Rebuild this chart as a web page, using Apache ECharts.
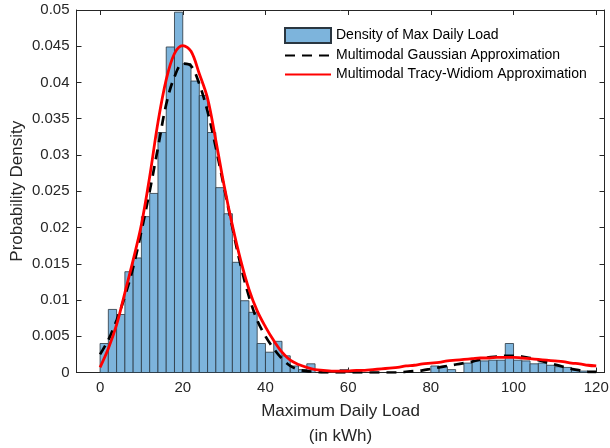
<!DOCTYPE html>
<html>
<head>
<meta charset="utf-8">
<script src="https://cdn.jsdelivr.net/npm/echarts@6/dist/echarts.min.js"></script>
<style>
html,body{margin:0;padding:0;background:#fff;}
#chart{width:610px;height:448px;}
</style>
</head>
<body>
<div id="chart"></div>
<script>
// Histogram bin edges (kWh) and density per bin
const binEdges = [0,2,4,6,8,10,12,14,16,18,20,22,24,26,28,30,32,34,36,38,40,42,44,46,48,50,52,54,56,58,60,
  62,64,66,68,70,72,74,76,78,80,82,84,86,88,90,92,94,96,98,100,102,104,106,108,110,112,114,116,118,120];
const density = [0.0040,0.0087,0.0080,0.0139,0.0158,0.0215,0.0247,0.0331,0.0449,0.0497,
  0.0426,0.0402,0.0382,0.0331,0.0255,0.0219,0.0152,0.0099,0.0083,0.0040,
  0.0028,0.0043,0.0023,0.0009,0.0004,0.0012,0,0,0,0.0004,
  0,0,0,0,0,0,0,0,0,0,
  0.0009,0.0008,0.0004,0,0.0013,0.0016,0.0016,0.0017,0.0017,0.0040,
  0.0017,0.0016,0.0012,0.0013,0.0010,0.0008,0.0007,0.0004,0.0002,0];

// Curve sample positions (kWh)
const curveX = [0,2,4,6,8,10,12,14,16,18,20,22,24,26,28,30,32,34,36,38,40,42,44,46,48,50,52,54,56,58,60,
  62,64,66,68,70,72,74,76,78,80,82,84,86,88,90,92,94,96,98,100,102,104,106,108,110,112,114,116,118,120];
const gaussY = [0.0025,0.0045,0.0072,0.0105,0.0145,0.0195,0.0250,0.0310,0.0370,0.0408,
  0.0426,0.0423,0.0398,0.0360,0.0310,0.0255,0.0200,0.0148,0.0105,0.0072,
  0.0050,0.0033,0.0019,0.0009,0.0004,0.0002,0.0001,0,0,0,
  0,0,0,0,0,0,0,0.0001,0.0002,0.0003,
  0.0005,0.0007,0.0009,0.0011,0.0013,0.0015,0.0018,0.0021,0.0022,0.0023,
  0.0023,0.0022,0.0020,0.0017,0.0014,0.0011,0.0008,0.0005,0.0003,0.0001,0.0001];
const tracyY = [0.0007,0.0033,0.0066,0.0110,0.0155,0.0204,0.0270,0.0345,0.0404,0.0440,
  0.0451,0.0443,0.0412,0.0378,0.0320,0.0258,0.0203,0.0155,0.0115,0.0085,
  0.0063,0.0044,0.0028,0.0017,0.0011,0.0007,0.0004,0.0003,0.0002,0.0002,
  0.0002,0.0003,0.0003,0.0004,0.0005,0.0006,0.0007,0.0009,0.0010,0.0012,
  0.0013,0.0014,0.0016,0.0017,0.0018,0.0019,0.0020,0.0020,0.0021,0.0021,
  0.0021,0.0020,0.0019,0.0018,0.0017,0.0016,0.0015,0.0013,0.0012,0.0010,0.0009];

const xTicks = [0,20,40,60,80,100,120];
const names = ['Density of Max Daily Load','Multimodal Gaussian Approximation','Multimodal Tracy-Widiom Approximation'];

const FONT = 'Liberation Sans, Arial, sans-serif';
const AX = '#262626';

const histData = density.map((d, i) => [binEdges[i], binEdges[i + 1], d]);

const chart = echarts.init(document.getElementById('chart'), null, {renderer: 'canvas'});
const axisLine = {show: true, onZero: false, lineStyle: {color: AX, width: 1}};
const tickIn = {show: true, inside: true, length: 5, lineStyle: {color: AX, width: 1}};

chart.setOption({
  animation: false,
  backgroundColor: '#fff',
  grid: {left: 76.5, right: 5.5, top: 10, bottom: 75.5, containLabel: false, outerBoundsMode: 'none'},
  legend: {
    orient: 'vertical', left: 284, top: 27, padding: 0,
    itemWidth: 46, itemHeight: 15, itemGap: 4,
    textStyle: {fontFamily: FONT, fontSize: 14, color: '#000', lineHeight: 15},
    data: [
      {name: names[0], icon: 'rect'},
      {name: names[1], itemStyle: {opacity: 0}},
      {name: names[2], itemStyle: {opacity: 0}}
    ]
  },
  xAxis: [{
    type: 'value', min: -5.7, max: 122, position: 'bottom',
    axisLine: axisLine,
    axisTick: Object.assign({}, tickIn, {customValues: xTicks}),
    axisLabel: {customValues: xTicks, fontFamily: FONT, fontSize: 15, color: AX, margin: 8},
    splitLine: {show: false},
    name: 'Maximum Daily Load\n(in kWh)', nameLocation: 'middle', nameGap: 26, nameMoveOverlap: false,
    nameTextStyle: {fontFamily: FONT, fontSize: 17, color: AX, lineHeight: 25}
  }, {
    type: 'value', min: -5.7, max: 122, position: 'top',
    axisLine: axisLine,
    axisTick: Object.assign({}, tickIn, {customValues: xTicks}),
    axisLabel: {show: false}, splitLine: {show: false}
  }],
  yAxis: [{
    type: 'value', min: 0, max: 0.05, interval: 0.005, position: 'left',
    axisLine: axisLine, axisTick: tickIn,
    axisLabel: {fontFamily: FONT, fontSize: 15, color: AX, margin: 7},
    splitLine: {show: false},
    name: 'Probability Density', nameLocation: 'middle', nameGap: 51, nameMoveOverlap: false,
    nameTextStyle: {fontFamily: FONT, fontSize: 17, color: AX}
  }, {
    type: 'value', min: 0, max: 0.05, interval: 0.005, position: 'right',
    axisLine: axisLine, axisTick: tickIn,
    axisLabel: {show: false}, splitLine: {show: false}
  }],
  series: [{
    name: names[0],
    type: 'custom',
    xAxisIndex: 0, yAxisIndex: 0,
    data: histData,
    encode: {x: [0, 1], y: 2},
    itemStyle: {color: '#7db4dc', borderColor: '#2a3640', borderWidth: 0.8},
    renderItem: function (params, api) {
      const h = api.value(2);
      if (!(h > 0)) return null;
      const p0 = api.coord([api.value(0), h]);
      const p1 = api.coord([api.value(1), 0]);
      return {
        type: 'rect',
        shape: {x: p0[0], y: p0[1], width: p1[0] - p0[0], height: p1[1] - p0[1]},
        style: {fill: '#7db4dc', stroke: '#2a3640', lineWidth: 0.8}
      };
    }
  }, {
    name: names[1],
    type: 'line', smooth: 0.35, symbol: 'none',
    data: curveX.map((x, i) => [x, gaussY[i]]),
    lineStyle: {color: '#000', width: 2.7, type: [10, 7]},
    itemStyle: {color: '#000'}
  }, {
    name: names[2],
    type: 'line', smooth: 0.35, symbol: 'none',
    data: curveX.map((x, i) => [x, tracyY[i]]),
    lineStyle: {color: '#ff0000', width: 2.8},
    itemStyle: {color: '#ff0000'}
  }]
});
</script>
</body>
</html>
